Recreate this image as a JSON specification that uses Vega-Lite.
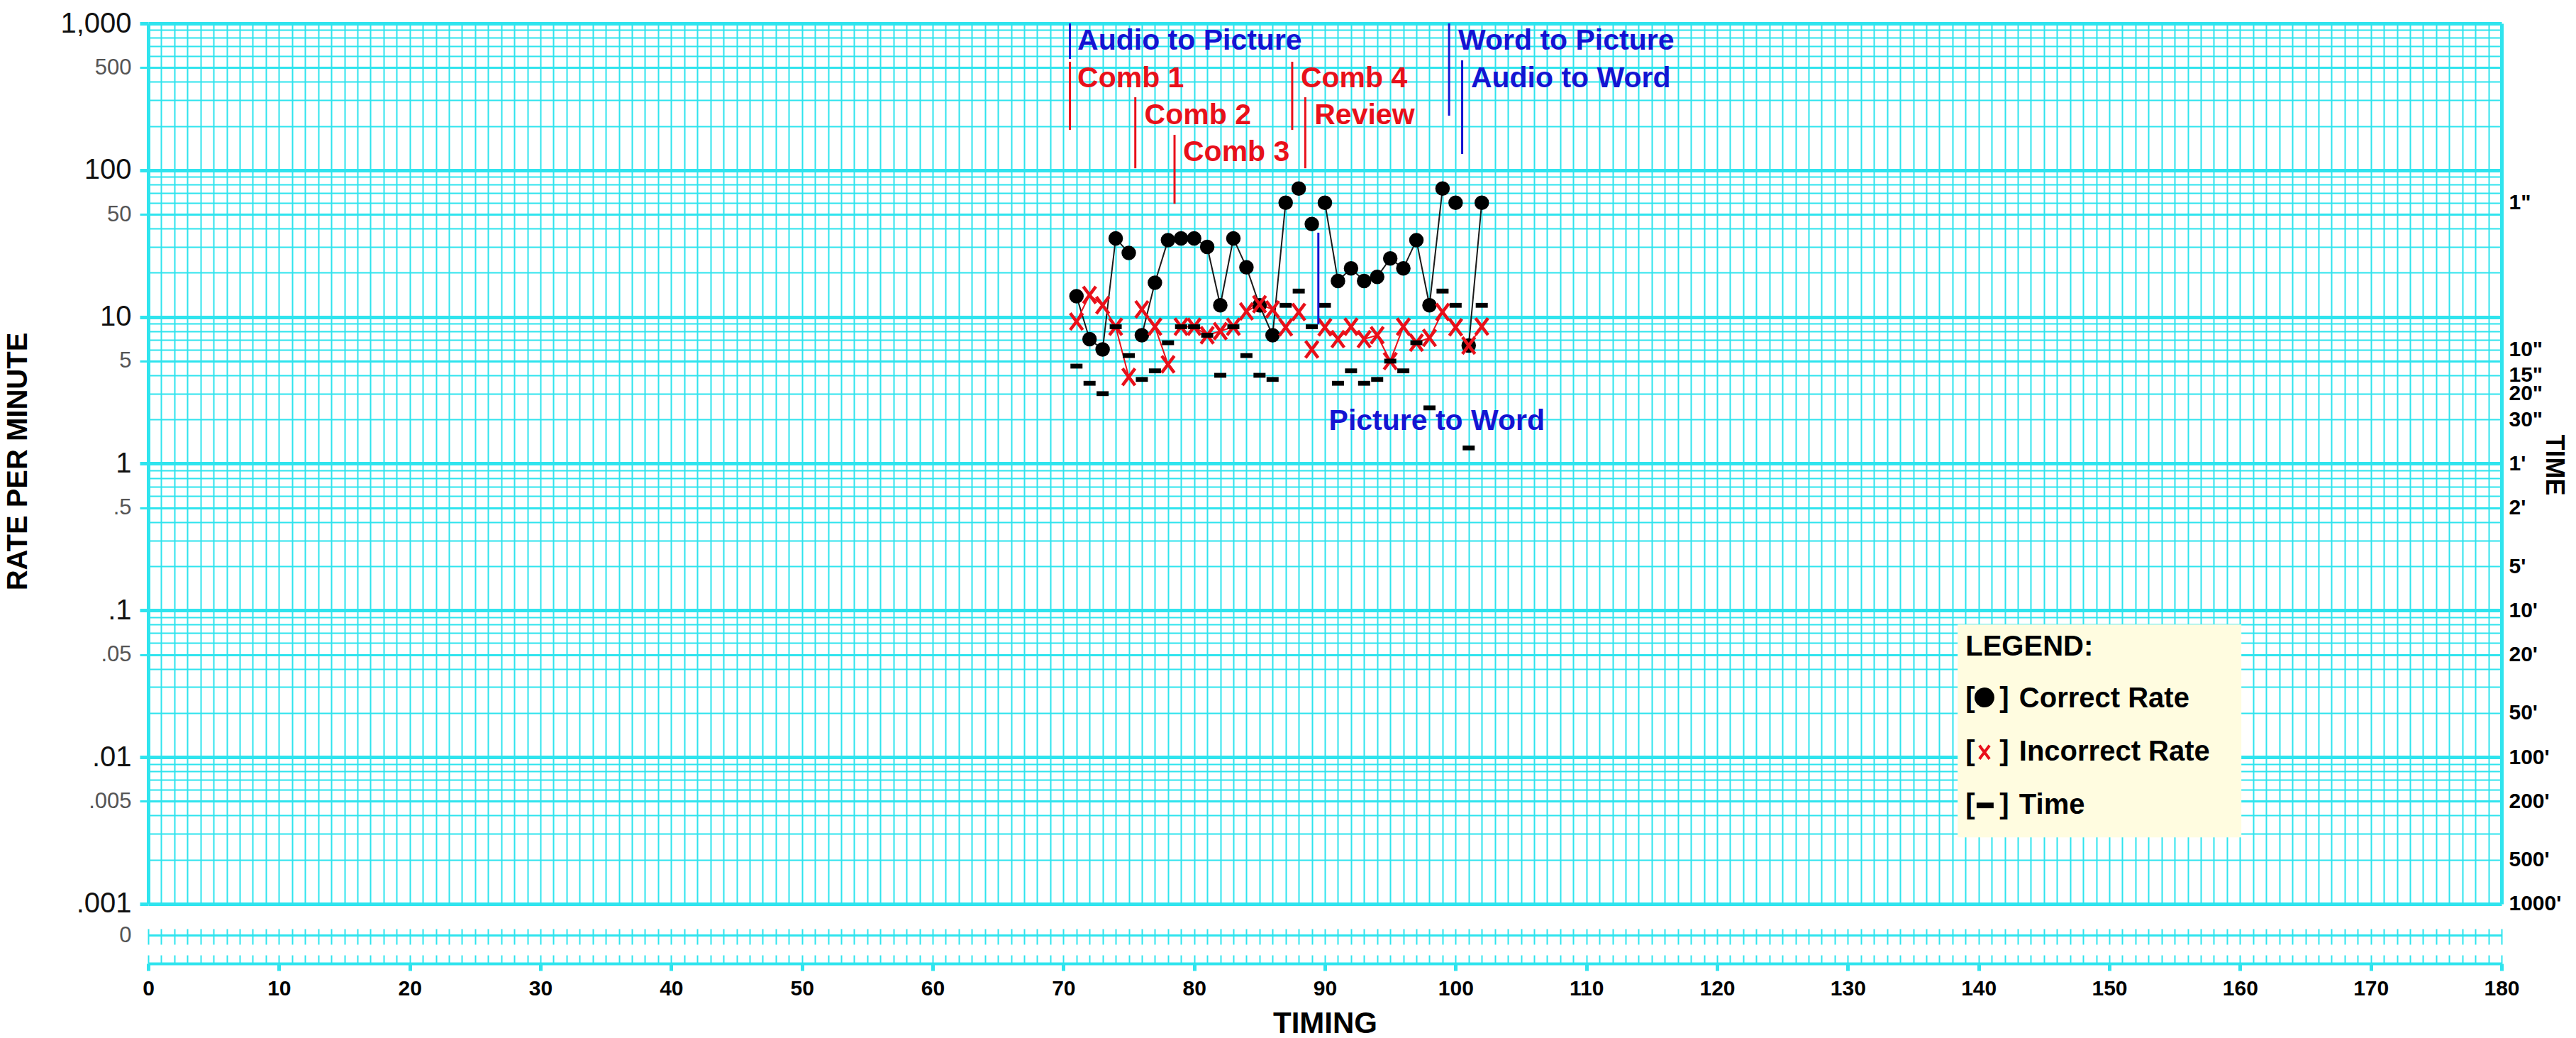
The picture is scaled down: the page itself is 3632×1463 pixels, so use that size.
{
  "$schema": "https://vega.github.io/schema/vega-lite/v6.json",
  "width": 3318,
  "height": 1325,
  "autosize": {"type": "none"},
  "padding": {"left": 209, "top": 33, "right": 105, "bottom": 105},
  "background": "white",
  "config": {
    "view": {"stroke": null},
    "font": "Liberation Sans",
    "axis": {"labelOverlap": false, "labelBound": false, "labelFlush": false, "zindex": 0}
  },
  "datasets": {
    "main": [
      {"t": 71, "phase": "Comb 1", "correct": 13.85, "incorrect": 9.3, "time": 4.62},
      {"t": 72, "phase": "Comb 1", "correct": 7.06, "incorrect": 14.1, "time": 3.53},
      {"t": 73, "phase": "Comb 1", "correct": 6.0, "incorrect": 12.0, "time": 3.0},
      {"t": 74, "phase": "Comb 1", "correct": 34.3, "incorrect": 8.57, "time": 8.57},
      {"t": 75, "phase": "Comb 1", "correct": 27.3, "incorrect": 3.9, "time": 5.45},
      {"t": 76, "phase": "Comb 2", "correct": 7.5, "incorrect": 11.25, "time": 3.75},
      {"t": 77, "phase": "Comb 2", "correct": 17.1, "incorrect": 8.57, "time": 4.29},
      {"t": 78, "phase": "Comb 2", "correct": 33.3, "incorrect": 4.75, "time": 6.67},
      {"t": 79, "phase": "Comb 3", "correct": 34.3, "incorrect": 8.57, "time": 8.57},
      {"t": 80, "phase": "Comb 3", "correct": 34.3, "incorrect": 8.57, "time": 8.57},
      {"t": 81, "phase": "Comb 3", "correct": 30, "incorrect": 7.5, "time": 7.5},
      {"t": 82, "phase": "Comb 3", "correct": 12, "incorrect": 8, "time": 4},
      {"t": 83, "phase": "Comb 3", "correct": 34.3, "incorrect": 8.57, "time": 8.57},
      {"t": 84, "phase": "Comb 3", "correct": 21.8, "incorrect": 10.9, "time": 5.45},
      {"t": 85, "phase": "Comb 3", "correct": 12, "incorrect": 12.2, "time": 4},
      {"t": 86, "phase": "Comb 3", "correct": 7.5, "incorrect": 11.25, "time": 3.75},
      {"t": 87, "phase": "Comb 3", "correct": 60, "incorrect": 8.5, "time": 12},
      {"t": 88, "phase": "Comb 4", "correct": 75, "incorrect": 10.8, "time": 15},
      {"t": 89, "phase": "Review", "correct": 42.9, "incorrect": 6.0, "time": 8.57},
      {"t": 90, "phase": "Picture to Word", "correct": 60, "incorrect": 8.5, "time": 12},
      {"t": 91, "phase": "Picture to Word", "correct": 17.6, "incorrect": 7.06, "time": 3.53},
      {"t": 92, "phase": "Picture to Word", "correct": 21.4, "incorrect": 8.57, "time": 4.29},
      {"t": 93, "phase": "Picture to Word", "correct": 17.6, "incorrect": 7.06, "time": 3.53},
      {"t": 94, "phase": "Picture to Word", "correct": 18.75, "incorrect": 7.5, "time": 3.75},
      {"t": 95, "phase": "Picture to Word", "correct": 25, "incorrect": 5, "time": 5},
      {"t": 96, "phase": "Picture to Word", "correct": 21.4, "incorrect": 8.57, "time": 4.29},
      {"t": 97, "phase": "Picture to Word", "correct": 33.3, "incorrect": 6.67, "time": 6.67},
      {"t": 98, "phase": "Picture to Word", "correct": 12, "incorrect": 7.2, "time": 2.4},
      {"t": 99, "phase": "Picture to Word", "correct": 75, "incorrect": 10.8, "time": 15},
      {"t": 100, "phase": "Word to Picture", "correct": 60, "incorrect": 8.5, "time": 12},
      {"t": 101, "phase": "Audio to Word", "correct": 6.38, "incorrect": 6.38, "time": 1.28},
      {"t": 102, "phase": "Audio to Word", "correct": 60, "incorrect": 8.6, "time": 12}
    ],
    "notes": [
      {"label": "Audio to Picture", "type": "task", "x": 70.5, "y1": 573, "y2": 1000, "tx": 71.07, "ty": 662},
      {"label": "Comb 1", "type": "step", "x": 70.5, "y1": 188, "y2": 548, "tx": 71.07, "ty": 367},
      {"label": "Comb 2", "type": "step", "x": 75.5, "y1": 103, "y2": 314, "tx": 76.2, "ty": 206},
      {"label": "Comb 3", "type": "step", "x": 78.5, "y1": 59, "y2": 174, "tx": 79.15, "ty": 115},
      {"label": "Comb 4", "type": "step", "x": 87.5, "y1": 188, "y2": 548, "tx": 88.15, "ty": 367},
      {"label": "Review", "type": "step", "x": 88.5, "y1": 103, "y2": 314, "tx": 89.2, "ty": 206},
      {"label": "Picture to Word", "type": "task", "x": 89.5, "y1": 8.9, "y2": 37.5, "tx": 90.3, "ty": 1.69},
      {"label": "Word to Picture", "type": "task", "x": 99.5, "y1": 235, "y2": 1000, "tx": 100.2, "ty": 662},
      {"label": "Audio to Word", "type": "task", "x": 100.5, "y1": 129, "y2": 560, "tx": 101.17, "ty": 367}
    ],
    "legend": [
      {"kind": "box", "x": 138.4, "x2": 160.1, "y": 0.0802, "y2": 0.00284},
      {"kind": "title", "x": 139.0, "y": 0.0491, "label": "LEGEND:"},
      {"kind": "item", "x": 143.1, "y": 0.0218, "label": "Correct Rate"},
      {"kind": "item", "x": 143.1, "y": 0.00946, "label": "Incorrect Rate"},
      {"kind": "item", "x": 143.1, "y": 0.0041, "label": "Time"},
      {"kind": "bracket", "x": 139.0, "y": 0.0218, "label": "["},
      {"kind": "bracket", "x": 141.6, "y": 0.0218, "label": "]"},
      {"kind": "bracket", "x": 139.0, "y": 0.00946, "label": "["},
      {"kind": "bracket", "x": 141.6, "y": 0.00946, "label": "]"},
      {"kind": "bracket", "x": 139.0, "y": 0.0041, "label": "["},
      {"kind": "bracket", "x": 141.6, "y": 0.0041, "label": "]"},
      {"kind": "dot", "x": 140.45, "y": 0.0255},
      {"kind": "cross", "x": 140.45, "y": 0.0108},
      {"kind": "dash", "x": 140.5, "y": 0.00469}
    ]
  },
  "resolve": {"axis": {"x": "independent", "y": "independent"}},
  "layer": [
    {
      "data": {"name": "main"},
      "mark": {"type": "line", "stroke": "#1a1a1a", "strokeWidth": 2},
      "encoding": {
        "x": {
          "field": "t", "type": "quantitative",
          "scale": {"domain": [0, 180], "nice": false, "zero": false},
          "axis": {
            "orient": "bottom",
            "values": [0, 10, 20, 30, 40, 50, 60, 70, 80, 90, 100, 110, 120, 130, 140, 150, 160, 170, 180],
            "format": "d",
            "grid": false,
            "ticks": true, "tickSize": 10, "tickWidth": 5, "tickColor": "#2fe4ee",
            "domain": true, "domainColor": "#2fe4ee", "domainWidth": 4,
            "labelFontSize": 30, "labelFontWeight": "bold", "labelColor": "#000", "labelPadding": 10,
            "title": "TIMING", "titleFontSize": 42, "titleFontWeight": "bold", "titleColor": "#000",
            "titleX": 1659, "titleY": 97, "titleBaseline": "alphabetic", "titleAlign": "center"
          }
        },
        "y": {
          "field": "correct", "type": "quantitative",
          "scale": {"type": "log", "domain": [0.0003925, 1000], "nice": false},
          "axis": {
            "orient": "left",
            "values": [1000, 500, 100, 50, 10, 5, 1, 0.5, 0.1, 0.05, 0.01, 0.005, 0.001, 0.000612],
            "grid": true, "gridColor": "#2fe4ee",
            "gridWidth": {"condition": {"test": "indexof([1000,100,10,1,0.1,0.01,0.001], datum.value) >= 0", "value": 5}, "value": 3},
            "domain": false,
            "ticks": true, "tickSize": 12, "tickColor": "#2fe4ee",
            "tickWidth": {"condition": {"test": "indexof([1000,100,10,1,0.1,0.01,0.001], datum.value) >= 0", "value": 5}, "value": 3},
            "tickOpacity": {"condition": {"test": "datum.value < 0.0009", "value": 0}, "value": 1},
            "labelExpr": "datum.value < 0.0009 ? '0' : (datum.value >= 1 ? format(datum.value, ',') : replace(format(datum.value, ''), '0.', '.'))",
            "labelFontSize": {"condition": {"test": "indexof([1000,100,10,1,0.1,0.01,0.001], datum.value) >= 0", "value": 40}, "value": 31},
            "labelColor": {"condition": {"test": "indexof([1000,100,10,1,0.1,0.01,0.001], datum.value) >= 0", "value": "#111111"}, "value": "#555555"},
            "labelPadding": 12,
            "title": "RATE PER MINUTE", "titleFontSize": 40, "titleFontWeight": "bold", "titleColor": "#000",
            "titleX": -184, "titleY": 617, "titleAngle": 270, "titleBaseline": "middle", "titleAlign": "center"
          }
        },
        "detail": {"field": "phase"}
      }
    },
    {
      "data": {"name": "main"},
      "mark": {"type": "line", "stroke": "#e8101a", "strokeWidth": 2},
      "encoding": {
        "x": {
          "field": "t", "type": "quantitative",
          "scale": {"domain": [0, 180], "nice": false, "zero": false},
          "axis": {
            "orient": "bottom", "tickCount": 180, "grid": false, "labels": false, "domain": false,
            "ticks": true, "tickSize": -12, "tickWidth": 2, "tickColor": "#2fe4ee", "title": null
          }
        },
        "y": {
          "field": "incorrect", "type": "quantitative",
          "axis": {
            "orient": "left",
            "values": [0.002, 0.003, 0.004, 0.006, 0.007, 0.008, 0.009, 0.02, 0.03, 0.04, 0.06, 0.07, 0.08, 0.09, 0.2, 0.3, 0.4, 0.6, 0.7, 0.8, 0.9, 2, 3, 4, 6, 7, 8, 9, 20, 30, 40, 60, 70, 80, 90, 200, 300, 400, 600, 700, 800, 900],
            "grid": true, "gridColor": "#2fe4ee", "gridWidth": 2,
            "labels": false, "ticks": false, "domain": false, "title": null
          }
        },
        "detail": {"field": "phase"}
      }
    },
    {
      "data": {"name": "main"},
      "mark": {"type": "point", "shape": "circle", "filled": true, "color": "#000000", "opacity": 1, "size": 420},
      "encoding": {
        "x": {
          "field": "t", "type": "quantitative",
          "scale": {"domain": [0, 180], "nice": false, "zero": false},
          "axis": {
            "orient": "bottom", "offset": -49, "tickCount": 180, "grid": false, "labels": false, "domain": false,
            "ticks": true, "tickSize": 22, "tickWidth": 2, "tickColor": "#2fe4ee", "title": null
          }
        },
        "y": {
          "field": "correct", "type": "quantitative",
          "axis": {
            "orient": "right",
            "values": [60, 6, 4, 3, 2, 1, 0.5, 0.2, 0.1, 0.05, 0.02, 0.01, 0.005, 0.002, 0.001],
            "grid": false, "ticks": false, "tickSize": 0, "domain": false,
            "labelExpr": "datum.value > 1 ? format(60 / datum.value, 'd') + '\"' : format(1 / datum.value, 'd') + \"'\"",
            "labelFontSize": 30, "labelFontWeight": "bold", "labelColor": "#000", "labelPadding": 10, "labelAlign": "left",
            "title": "TIME", "titleFontSize": 36, "titleFontWeight": "bold", "titleColor": "#000",
            "titleX": 73, "titleY": 622, "titleAngle": 90, "titleBaseline": "middle", "titleAlign": "center"
          }
        }
      }
    },
    {
      "data": {"name": "main"},
      "mark": {"type": "point", "shape": "M-0.75,-1L0.75,1M0.75,-1L-0.75,1", "filled": false, "color": "#e8101a", "strokeWidth": 4.5, "opacity": 1, "size": 560},
      "encoding": {
        "x": {
          "field": "t", "type": "quantitative",
          "scale": {"domain": [0, 180], "nice": false, "zero": false},
          "axis": {
            "orient": "bottom", "offset": -84, "tickCount": 180, "grid": false, "labels": false, "domain": false,
            "ticks": true, "tickSize": -1241, "tickColor": "#2fe4ee",
            "tickWidth": {"condition": {"test": "datum.value == 0 || datum.value == 180", "value": 5}, "value": 2},
            "title": null
          }
        },
        "y": {"field": "incorrect", "type": "quantitative", "axis": null}
      }
    },
    {
      "data": {"name": "main"},
      "mark": {"type": "point", "shape": "M-1,-0.4L1,-0.4L1,0.4L-1,0.4Z", "filled": true, "color": "#000000", "opacity": 1, "size": 289},
      "encoding": {
        "x": {"field": "t", "type": "quantitative", "axis": null},
        "y": {"field": "time", "type": "quantitative", "axis": null}
      }
    },
    {
      "data": {"name": "notes"},
      "mark": {"type": "rule", "strokeWidth": 3},
      "encoding": {
        "x": {"field": "x", "type": "quantitative", "axis": null},
        "y": {"field": "y1", "type": "quantitative", "axis": null},
        "y2": {"field": "y2"},
        "color": {"field": "type", "type": "nominal", "scale": {"domain": ["task", "step"], "range": ["#1414d2", "#e8101a"]}, "legend": null}
      }
    },
    {
      "data": {"name": "notes"},
      "mark": {"type": "text", "align": "left", "baseline": "alphabetic", "font": "Liberation Sans", "fontSize": 41, "fontWeight": "bold"},
      "encoding": {
        "x": {"field": "tx", "type": "quantitative", "axis": null},
        "y": {"field": "ty", "type": "quantitative", "axis": null},
        "text": {"field": "label"},
        "color": {"field": "type", "type": "nominal", "scale": {"domain": ["task", "step"], "range": ["#1414d2", "#e8101a"]}, "legend": null}
      }
    },
    {
      "data": {"name": "legend"},
      "transform": [{"filter": "datum.kind == 'box'"}],
      "mark": {"type": "rect", "fill": "#fffce0"},
      "encoding": {
        "x": {"field": "x", "type": "quantitative", "axis": null},
        "x2": {"field": "x2"},
        "y": {"field": "y", "type": "quantitative", "axis": null},
        "y2": {"field": "y2"}
      }
    },
    {
      "data": {"name": "legend"},
      "transform": [{"filter": "datum.kind == 'title' || datum.kind == 'item' || datum.kind == 'bracket'"}],
      "mark": {"type": "text", "align": "left", "baseline": "alphabetic", "font": "Liberation Sans", "fontSize": 40, "fontWeight": "bold", "color": "#000000"},
      "encoding": {
        "x": {"field": "x", "type": "quantitative", "axis": null},
        "y": {"field": "y", "type": "quantitative", "axis": null},
        "text": {"field": "label"}
      }
    },
    {
      "data": {"name": "legend"},
      "transform": [{"filter": "datum.kind == 'dot'"}],
      "mark": {"type": "point", "shape": "circle", "filled": true, "color": "#000000", "opacity": 1, "size": 780},
      "encoding": {
        "x": {"field": "x", "type": "quantitative", "axis": null},
        "y": {"field": "y", "type": "quantitative", "axis": null}
      }
    },
    {
      "data": {"name": "legend"},
      "transform": [{"filter": "datum.kind == 'cross'"}],
      "mark": {"type": "point", "shape": "M-0.75,-1L0.75,1M0.75,-1L-0.75,1", "filled": false, "color": "#e8101a", "strokeWidth": 4, "opacity": 1, "size": 360},
      "encoding": {
        "x": {"field": "x", "type": "quantitative", "axis": null},
        "y": {"field": "y", "type": "quantitative", "axis": null}
      }
    },
    {
      "data": {"name": "legend"},
      "transform": [{"filter": "datum.kind == 'dash'"}],
      "mark": {"type": "point", "shape": "M-1,-0.33L1,-0.33L1,0.33L-1,0.33Z", "filled": true, "color": "#000000", "opacity": 1, "size": 576},
      "encoding": {
        "x": {"field": "x", "type": "quantitative", "axis": null},
        "y": {"field": "y", "type": "quantitative", "axis": null}
      }
    }
  ]
}
